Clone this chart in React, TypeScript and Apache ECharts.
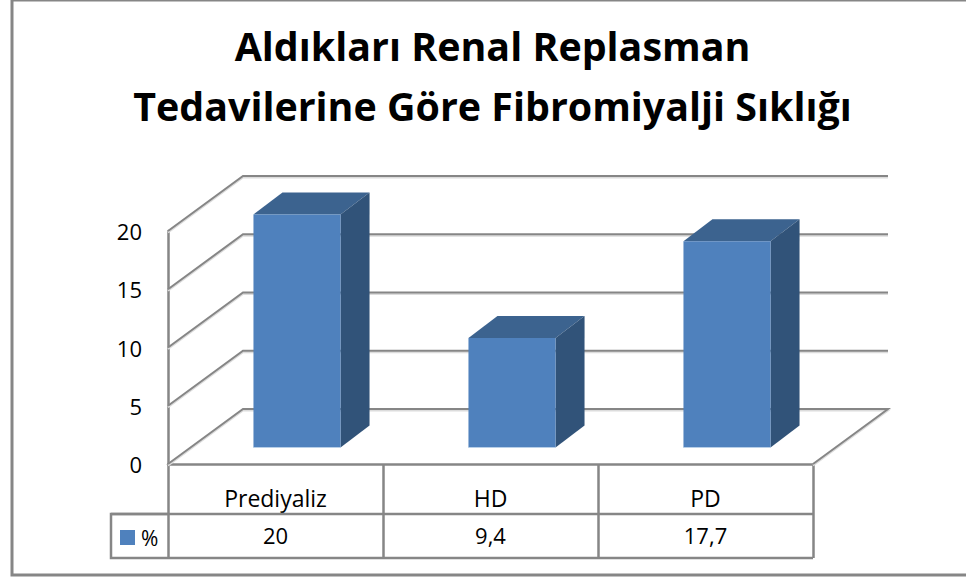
import React, { useEffect, useRef } from "react";
import * as echarts from "echarts";

const titleText = "Aldıkları Renal Replasman\nTedavilerine Göre Fibromiyalji Sıklığı";
const categories = ["Prediyaliz", "HD", "PD"];
const seriesName = "%";
const values = [20, 9.4, 17.7];
const tickValues = [0, 5, 10, 15, 20];

const FONT = "Open Sans";
const LINE = "#868686";
const LINE_LIGHT = "#dcdcdc";
const FRONT = "#4F81BD";
const TOP = "#3C638F";
const SIDE = "#315379";

const WALL_DX = 75;
const WALL_DY = -55;
const BAR_SHIFT_X = 21.5;
const BAR_SHIFT_Y = -16.5;
const BAR_DX = 29;
const BAR_DY = -22;
const BAR_RATIO = 0.405;

export default function App() {
  const ref = useRef<HTMLDivElement>(null);
  useEffect(() => {
    const chart = echarts.init(ref.current!, undefined, { renderer: "svg" });
    chart.setOption({
      animation: false,
      backgroundColor: "#ffffff",
      title: {
        text: titleText,
        left: 487.5,
        top: 11,
        textAlign: "center",
        textStyle: { fontFamily: FONT, fontWeight: "bold", fontSize: 39.4, lineHeight: 60, color: "#000" },
      },
      legend: {
        data: [{ name: seriesName, icon: "rect" }],
        left: 120,
        top: 527,
        itemWidth: 15,
        itemHeight: 15,
        itemGap: 0,
        padding: 0,
        selectedMode: false,
        textStyle: { fontFamily: FONT, fontSize: 21, color: "#000", padding: [0, 0, 0, 1] },
      },
      grid: { left: 168, top: 231, width: 645, height: 233 },
      xAxis: {
        type: "category",
        data: categories,
        axisLine: { lineStyle: { color: LINE, width: 2.5 } },
        axisTick: { show: true, length: 94, lineStyle: { color: LINE, width: 2.5 } },
        axisLabel: { fontFamily: FONT, fontSize: 23, color: "#000", margin: 22 },
      },
      yAxis: {
        type: "value",
        min: 0,
        max: 20,
        interval: 5,
        splitLine: { show: false },
        axisLine: { show: true, lineStyle: { color: LINE, width: 2.5 } },
        axisTick: { show: false },
        axisLabel: { fontFamily: FONT, fontSize: 22, color: "#000", margin: 26 },
      },
      graphic: [
        { type: "rect", shape: { x: 12, y: 0, width: 975, height: 575 }, style: { fill: "none", stroke: LINE, lineWidth: 3 }, z: 0 },
        { type: "polyline", shape: { points: [[168, 514], [111, 514], [111, 558], [813, 558]] }, style: { fill: "none", stroke: LINE, lineWidth: 2.5 }, z: 5 },
        { type: "line", shape: { x1: 111, y1: 514, x2: 813, y2: 514 }, style: { stroke: LINE, lineWidth: 2.5 }, z: 5 },
      ],
      series: [
        {
          type: "custom",
          name: "walls",
          silent: true,
          z: 1,
          clip: false,
          data: tickValues.map((v) => [0, v]),
          renderItem: (params: any, api: any) => {
            const cs = params.coordSys;
            const y = api.coord([0, api.value(1)])[1];
            const x0 = cs.x;
            const x1 = cs.x + cs.width;
            const pts = [[x0, y], [x0 + WALL_DX, y + WALL_DY], [x1 + WALL_DX, y + WALL_DY]];
            if (api.value(1) === 0) pts.push([x1, y]);
            const shade = pts.map((p) => [p[0], p[1] + 1.5]);
            return {
              type: "group",
              children: [
                { type: "polyline", shape: { points: shade }, style: { fill: "none", stroke: LINE_LIGHT, lineWidth: 2 } },
                { type: "polyline", shape: { points: pts }, style: { fill: "none", stroke: LINE, lineWidth: 2 } },
              ],
            };
          },
        },
        {
          type: "custom",
          name: seriesName,
          z: 3,
          clip: false,
          itemStyle: { color: FRONT },
          data: categories.map((_, i) => [i, values[i]]),
          renderItem: (params: any, api: any) => {
            const cs = params.coordSys;
            const i = api.value(0);
            const v = api.value(1);
            const top = api.coord([i, v]);
            const base = api.coord([i, 0]);
            const w = api.size([1, 0])[0] * BAR_RATIO;
            const l = top[0] + BAR_SHIFT_X - w / 2;
            const r = l + w;
            const t = top[1] + BAR_SHIFT_Y;
            const b = base[1] + BAR_SHIFT_Y;
            return {
              type: "group",
              children: [
                { type: "polygon", shape: { points: [[l, t], [r, t], [r + BAR_DX, t + BAR_DY], [l + BAR_DX, t + BAR_DY]] }, style: { fill: TOP } },
                { type: "polygon", shape: { points: [[r, t], [r + BAR_DX, t + BAR_DY], [r + BAR_DX, b + BAR_DY], [r, b]] }, style: { fill: SIDE } },
                { type: "rect", shape: { x: l, y: t, width: w, height: b - t }, style: { fill: FRONT } },
                { type: "line", shape: { x1: l, y1: b, x2: r, y2: b }, style: { stroke: "#b8cfe8", lineWidth: 1 } },
                {
                  type: "text",
                  x: base[0],
                  y: cs.y + cs.height + 71,
                  style: {
                    text: String(v).replace(".", ","),
                    fontFamily: FONT,
                    fontSize: 22,
                    fill: "#000",
                    align: "center",
                    verticalAlign: "middle",
                  },
                },
              ],
            };
          },
        },
      ],
    });
    return () => chart.dispose();
  }, []);
  return <div ref={ref} style={{ position: "fixed", left: 0, top: 0, width: 966, height: 577 }} />;
}
